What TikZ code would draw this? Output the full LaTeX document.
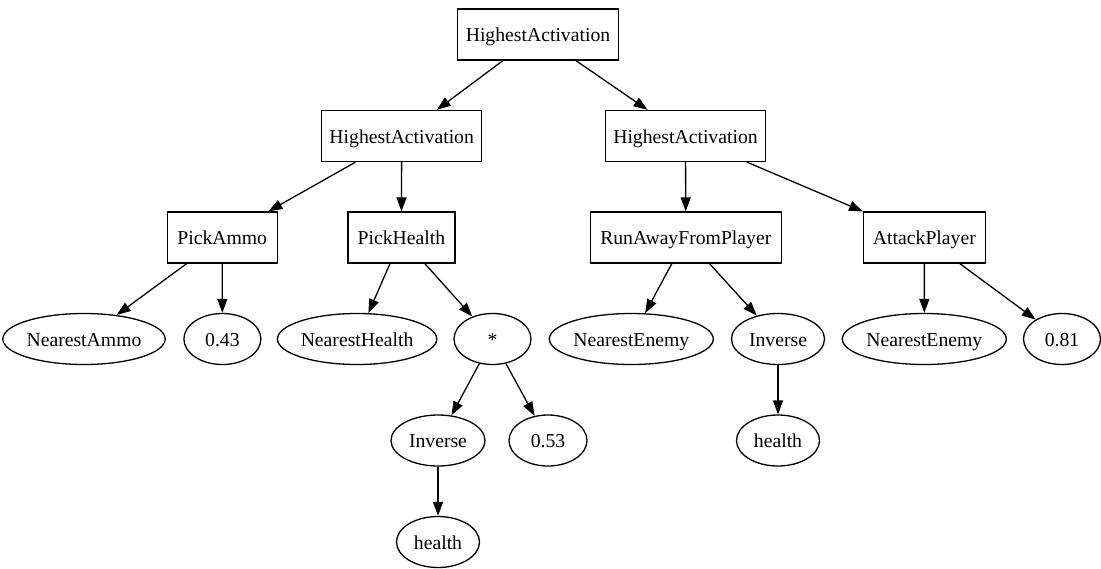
\documentclass[tikz,border=0pt]{standalone}
\usepackage{fontspec}
\setmainfont{Liberation Serif}
\usetikzlibrary{shapes.geometric,arrows.meta}
\begin{document}
\begin{tikzpicture}[x=1pt,y=-1pt,
  every node/.style={font=\fontsize{19.7}{23}\selectfont, inner sep=0pt, line width=1.3pt, text height=19pt, text depth=4.6pt},
  boxnode/.style={draw, rectangle, minimum height=51pt},
  ovalnode/.style={draw, ellipse, minimum height=51pt},
  conn/.style={line width=1.3pt, -{Triangle[length=14pt,width=10pt]}}]
\useasboundingbox (0,0) rectangle (1101,568);
% rank 0
\node[boxnode, minimum width=161pt] (root) at (538,34.5) {HighestActivation};
% rank 1
\node[boxnode, minimum width=160pt] (ha1) at (401.7,136) {HighestActivation};
\node[boxnode, minimum width=160pt] (ha2) at (685.5,136) {HighestActivation};
% rank 2
\node[boxnode, minimum width=110pt] (pickammo) at (222.2,237.5) {PickAmmo};
\node[boxnode, minimum width=107pt] (pickhealth) at (401.4,237.5) {PickHealth};
\node[boxnode, minimum width=191pt] (runaway) at (685.8,237.5) {RunAwayFromPlayer};
\node[boxnode, minimum width=121.5pt] (attack) at (924.4,237.5) {AttackPlayer};
% rank 3
\node[ovalnode, minimum width=153pt] (nammo) at (84,339) {NearestAmmo};
\node[ovalnode, minimum width=77pt] (v043) at (222.4,339) {0.43};
\node[ovalnode, minimum width=143pt] (nhealth) at (357.1,339) {NearestHealth};
\node[ovalnode, minimum width=77pt] (star) at (492.5,339) {*};
\node[ovalnode, minimum width=150pt] (nenemy1) at (631.3,339) {NearestEnemy};
\node[ovalnode, minimum width=93pt] (inv1) at (778,339) {Inverse};
\node[ovalnode, minimum width=149pt] (nenemy2) at (924.3,339) {NearestEnemy};
\node[ovalnode, minimum width=77pt] (v081) at (1062,339) {0.81};
% rank 4
\node[ovalnode, minimum width=94pt] (inv2) at (438,440.5) {Inverse};
\node[ovalnode, minimum width=78pt] (v053) at (548,440.5) {0.53};
\node[ovalnode, minimum width=83pt] (health1) at (778,440.5) {health};
% rank 5
\node[ovalnode, minimum width=83pt] (health2) at (438,542) {health};
% edges
\draw[conn] (root) -- (ha1);
\draw[conn] (root) -- (ha2);
\draw[conn] (ha1) -- (pickammo);
\draw[conn] (ha1) -- (pickhealth);
\draw[conn] (ha2) -- (runaway);
\draw[conn] (ha2) -- (attack);
\draw[conn] (pickammo) -- (nammo);
\draw[conn] (pickammo) -- (v043);
\draw[conn] (pickhealth) -- (nhealth);
\draw[conn] (pickhealth) -- (star);
\draw[conn] (runaway) -- (nenemy1);
\draw[conn] (runaway) -- (inv1);
\draw[conn] (attack) -- (nenemy2);
\draw[conn] (attack) -- (v081);
\draw[conn] (star) -- (inv2);
\draw[conn] (star) -- (v053);
\draw[conn] (inv1) -- (health1);
\draw[conn] (inv2) -- (health2);
\end{tikzpicture}
\end{document}
